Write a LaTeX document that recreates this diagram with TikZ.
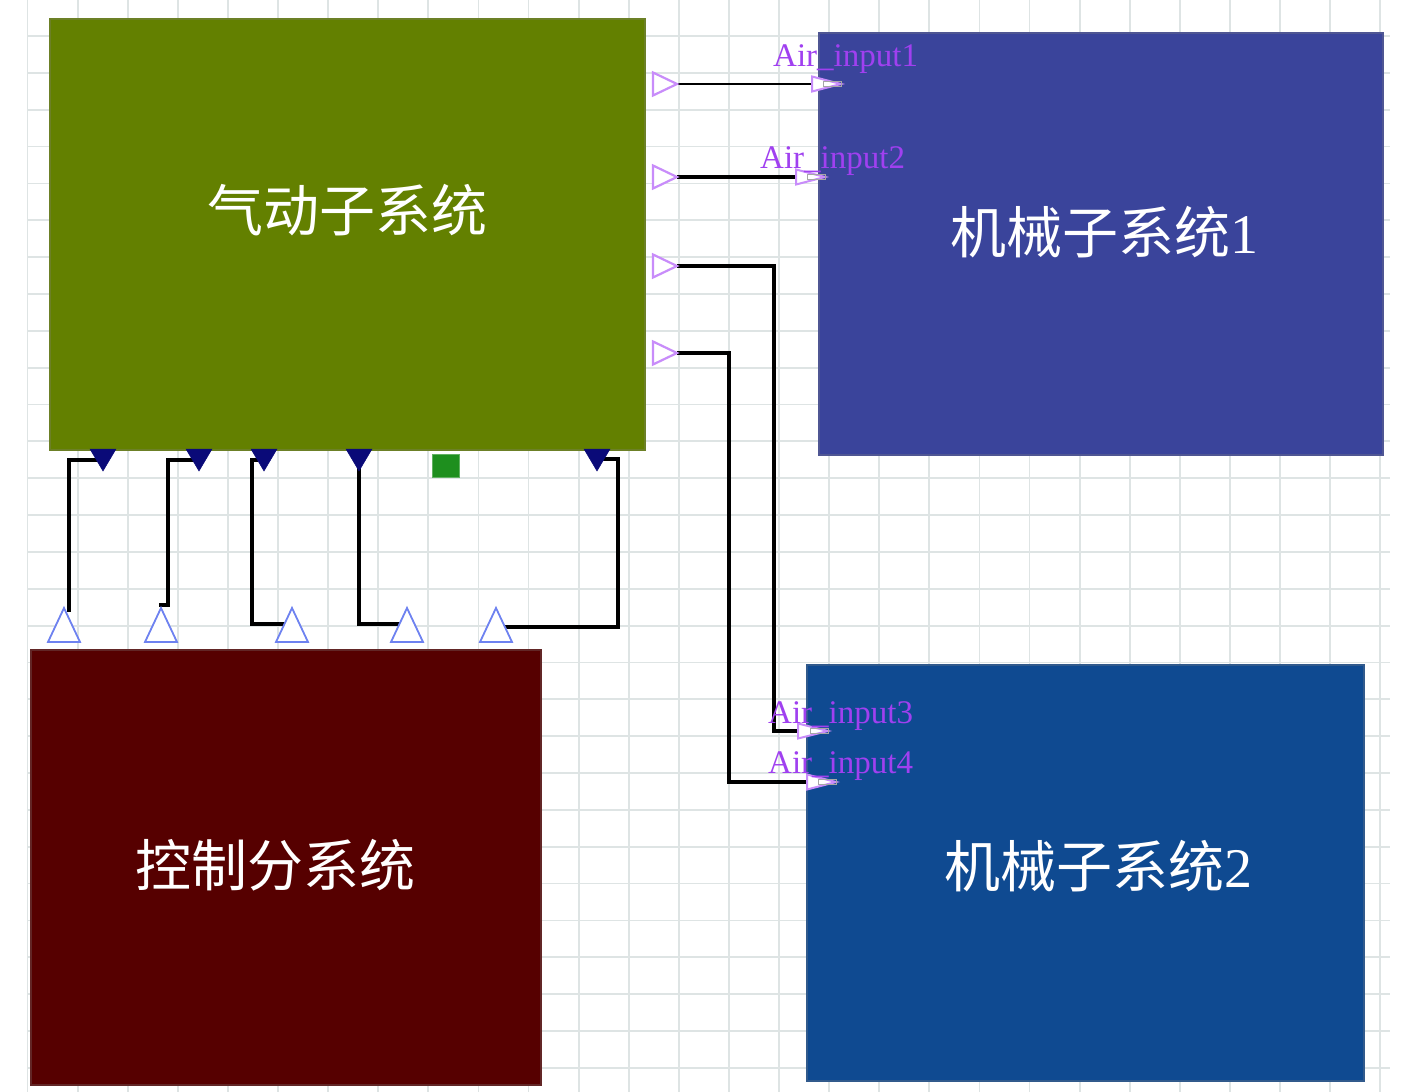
\documentclass[tikz,border=0pt]{standalone}
\usepackage{fontspec}
\setmainfont{Liberation Serif}
\newfontfamily\cjk{Noto Sans CJK SC}
\definecolor{gridc}{RGB}{222,228,228}
\definecolor{greenc}{RGB}{99,128,0}
\definecolor{blueA}{RGB}{58,68,155}
\definecolor{blueB}{RGB}{15,74,145}
\definecolor{redc}{RGB}{86,0,0}
\definecolor{lblc}{RGB}{160,64,240}
\definecolor{portv}{RGB}{200,140,250}
\definecolor{navy}{RGB}{10,10,120}
\definecolor{portb}{RGB}{110,130,240}
\definecolor{sq}{RGB}{30,143,30}
\begin{document}
\begin{tikzpicture}[x=1pt,y=-1pt,
  gridline/.style={draw=gridc, line width=1.8pt},
  block/.style={draw=#1!70!gray, fill=#1, line width=1.5pt},
  wire/.style={draw=black, line width=4pt},
  title/.style={text=white, inner sep=0, font=\fontsize{56}{60}\selectfont},
  lbl/.style={text=lblc, anchor=base west, inner sep=0, font=\fontsize{33}{35}\selectfont},
  outp/.style={draw=portv, fill=white, line width=2.2pt, line join=miter},
  inp/.style={draw=portv, fill=white, line width=2pt},
  dnp/.style={fill=navy, draw=navy, line width=0.5pt},
  upp/.style={draw=portb, fill=white, line width=1.8pt},
]
\useasboundingbox (0,0) rectangle (1417,1092);
\fill[white] (0,0) rectangle (1417,1092);
% grid
\foreach \k in {0,...,27} {
  \draw[gridline] ({27.5+50.1*\k},0) -- ({27.5+50.1*\k},1092);
}
\foreach \k in {0,...,28} {
  \draw[gridline] (27,{36+36.85*\k}) -- (1390,{36+36.85*\k});
}
% blocks
\node[block=greenc, minimum width=595pt, minimum height=431pt, inner sep=0, anchor=north west] (gas) at (49,18) {};
\node[block=blueA, minimum width=564pt, minimum height=422pt, inner sep=0, anchor=north west] (mech1) at (818,32) {};
\node[block=redc, minimum width=510pt, minimum height=435pt, inner sep=0, anchor=north west] (ctrl) at (30,649) {};
\node[block=blueB, minimum width=557pt, minimum height=416pt, inner sep=0, anchor=north west] (mech2) at (806,664) {};
% titles
\node[title] (tgas) at (347,210) {\cjk 气动子系统};
\node[title] (tmech1) at (1104,232) {{\cjk 机械子系统}1};
\node[title] (tctrl) at (275,865) {\cjk 控制分系统};
\node[title] (tmech2) at (1098,866) {{\cjk 机械子系统}2};
% green square
\node[fill=sq, draw=sq!70!white, line width=1pt, minimum width=27pt, minimum height=23pt, inner sep=0] (sqr) at (446,466) {};
% coordinates of ports
\coordinate (o1) at (677,84);
\coordinate (o2) at (677,177);
\coordinate (o3) at (677,266);
\coordinate (o4) at (677,353);
\coordinate (i1) at (816,84);
\coordinate (i2) at (800,177);
\coordinate (i3) at (801,731);
\coordinate (i4) at (810,782);
\coordinate (d1) at (100,460);
\coordinate (d2) at (196,460);
\coordinate (d3) at (258,460);
\coordinate (d4) at (359,466);
\coordinate (d5) at (600,459);
\coordinate (u1) at (69,612);
\coordinate (u2) at (159,605);
\coordinate (u3) at (286,624);
\coordinate (u4) at (401,624);
\coordinate (u5) at (504,627);
% wires
\draw[wire, line width=2.8pt] (o1) -- (i1);
\draw[wire, line width=4.5pt] (o2) -- (i2);
\draw[wire] (o3) -- ++(97,0) |- (i3);
\draw[wire] (o4) -- ++(52,0) |- (i4);
\draw[wire] (d1) -| (u1);
\draw[wire] (d2) -- ++(-28,0) |- (u2);
\draw[wire] (d3) -- ++(-6,0) |- (u3);
\draw[wire] (d4) |- (u4);
\draw[wire] (d5) -- ++(18,0) |- (u5);
% out ports (green right side)
\foreach \c in {84,177,266,353} {
  \draw[outp] (653,{\c-11.5}) -- (677,\c) -- (653,{\c+11.5}) -- cycle;
}
% in ports
\foreach \lx/\cy/\tx in {812/84/841, 796/177/825, 798/731/828, 807/782/836} {
  \draw[inp] (\lx,{\cy-7.5}) -- (\tx,\cy) -- (\lx,{\cy+7.5}) -- cycle;
  \draw[draw=gray!70, line width=0.8pt] ({\tx-18},{\cy-2.5}) rectangle (\tx,{\cy+2.5});
}
% down ports (green bottom)
\foreach \cx in {103,199,264,359,597} {
  \draw[dnp] ({\cx-13},449) -- ({\cx+13},449) -- (\cx,471) -- cycle;
}
% up ports (red top)
\foreach \cx in {64,161,292,407,496} {
  \draw[upp] ({\cx-16},642) -- (\cx,608) -- ({\cx+16},642) -- cycle;
}
% labels
\node[lbl] (l1) at (773,66) {Air\_input1};
\node[lbl] (l2) at (760,168) {Air\_input2};
\node[lbl] (l3) at (768,723) {Air\_input3};
\node[lbl] (l4) at (768,773) {Air\_input4};
\end{tikzpicture}
\end{document}
